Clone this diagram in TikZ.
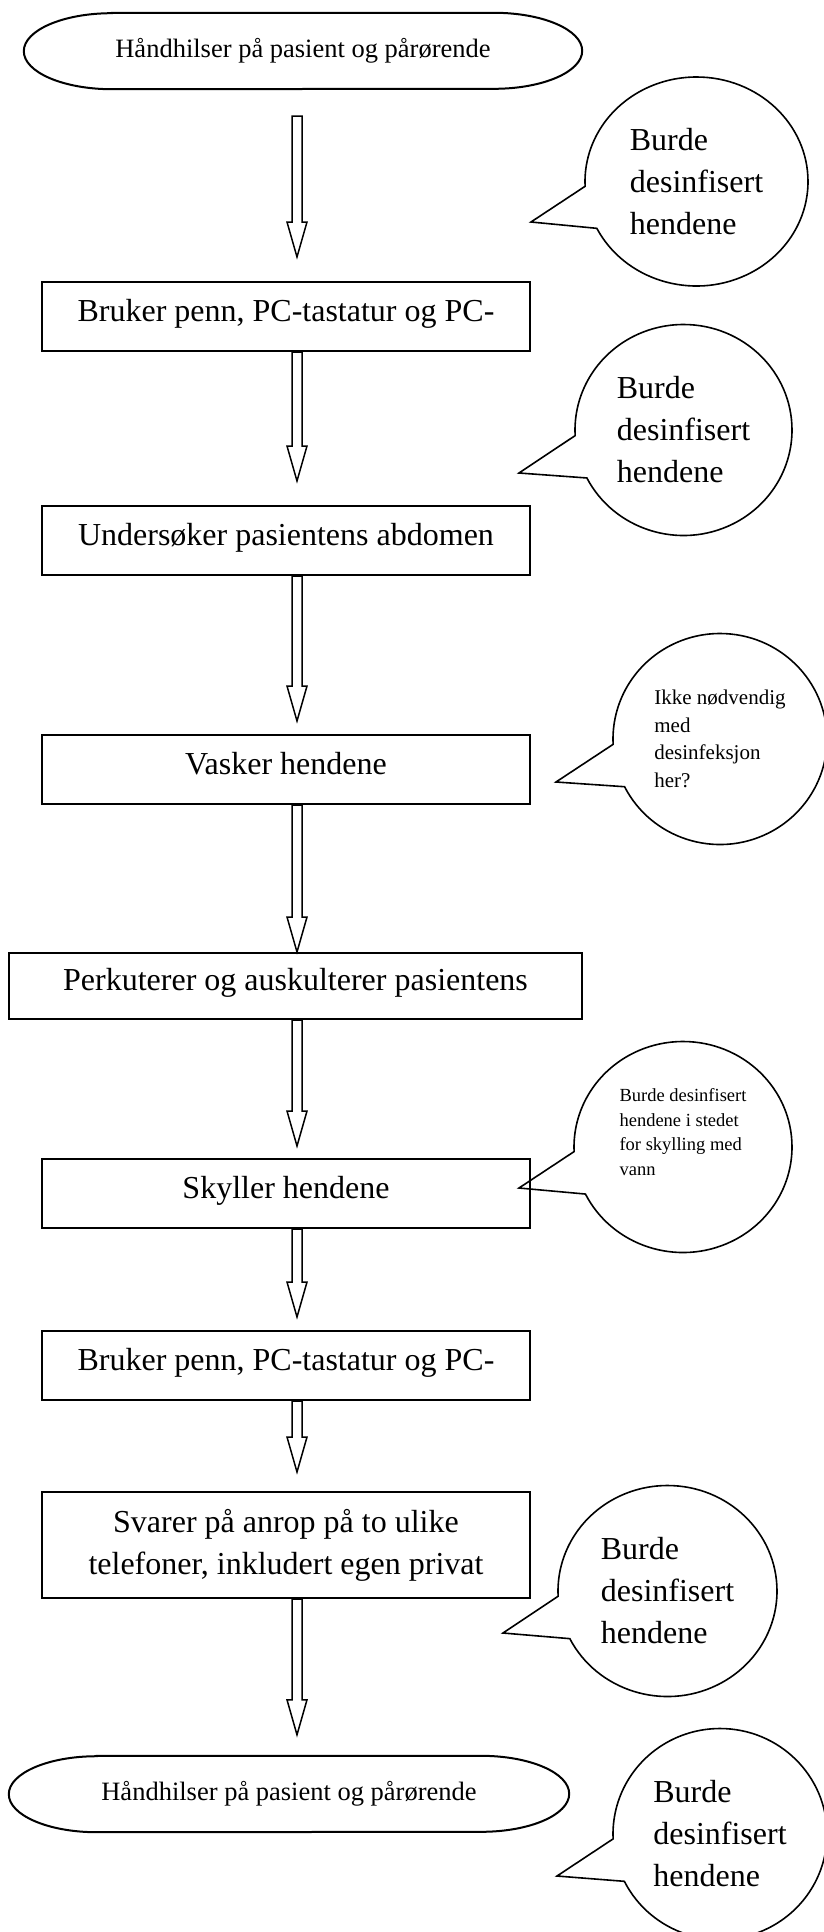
\documentclass[tikz,border=0pt]{standalone}
\usepackage{fontspec}
\setmainfont{Liberation Serif}
\usetikzlibrary{shapes.callouts,calc}

\tikzset{
	stepbox/.style={draw, line width=2pt, inner sep=0pt, minimum width=488pt, minimum height=69pt,
		text height=21pt, text depth=12pt, font=\fontsize{32}{42}\selectfont},
	terminal/.style={inner sep=0pt, minimum height=76pt, font=\fontsize{26.5}{32}\selectfont},
	note/.style={ellipse callout, draw, line width=1.6pt, inner sep=0pt, minimum width=218pt,
		minimum height=211pt, callout pointer arc=24, align=left, font=\fontsize{32}{42}\selectfont},
	hollow/.style 2 args={draw, line width=1.5pt, to path={
		($(\tikztostart)+(-5,#1)$) -- ($(\tikztotarget)+(-5,-#2-35)$) -- ($(\tikztotarget)+(-10,-#2-35)$)
		-- ($(\tikztotarget)+(0,-#2)$) -- ($(\tikztotarget)+(10,-#2-35)$) -- ($(\tikztotarget)+(5,-#2-35)$)
		-- ($(\tikztostart)+(5,#1)$) -- cycle}}
}

% outline of a start/stop node
\newcommand{\terminator}[1]{
	\draw[line width=2pt] ([xshift=88pt]#1.north west) -- ([xshift=-88pt]#1.north east)
		arc[start angle=90, end angle=-90, x radius=88pt, y radius=38pt]
		-- ([xshift=88pt]#1.south west)
		arc[start angle=270, end angle=90, x radius=88pt, y radius=38pt] -- cycle;
}

\begin{document}
\begin{tikzpicture}[x=1pt, y=-1pt]
	\clip (0,0) rectangle (824,1932);
	\coordinate (spine) at (297,0);

	\node[terminal, minimum width=558pt] (greet) at (303,51) {Håndhilser på pasient og pårørende};
	\terminator{greet}
	\node[stepbox] (pen) at (286,316.5) {Bruker penn, PC-tastatur og PC-};
	\node[stepbox] (abdomen) at (286,540.5) {Undersøker pasientens abdomen};
	\node[stepbox] (wash) at (286,769.5) {Vasker hendene};
	\node[stepbox, minimum width=573pt, minimum height=66pt] (percuss) at (295.5,986) {Perkuterer og auskulterer pasientens};
	\node[stepbox] (rinse) at (286,1193.5) {Skyller hendene};
	\node[stepbox] (pen2) at (286,1365.5) {Bruker penn, PC-tastatur og PC-};
	\node[stepbox, minimum height=106pt, text height={}, text depth={}, align=center] (phone) at (286,1545)
		{Svarer på anrop på to ulike\\telefoner, inkludert egen privat};
	\node[terminal, minimum width=560pt] (greet2) at (289,1794) {Håndhilser på pasient og pårørende};
	\terminator{greet2}

	\node[note, minimum width=223pt, minimum height=209pt, callout absolute pointer={(531,222)}] (c1) at (696.5,181.5)
		{Burde\\desinfisert\\hendene};
	\node[note, minimum width=217pt, callout absolute pointer={(519,473)}] (c2) at (683.5,430)
		{Burde\\desinfisert\\hendene};
	\node[note, minimum width=214pt, font=\fontsize{21}{27.5}\selectfont, callout absolute pointer={(556,782)}] (c3) at (720,739)
		{Ikke nødvendig\\med\\desinfeksjon\\her?};
	\node[note, font=\fontsize{18.5}{24.5}\selectfont, callout absolute pointer={(519,1188)}] (c4) at (683,1147)
		{Burde desinfisert\\hendene i stedet\\for skylling med\\vann\rule[-30pt]{0pt}{0pt}};
	\node[note, minimum width=219pt, callout absolute pointer={(503,1633)}] (c5) at (667.5,1591)
		{Burde\\desinfisert\\hendene};
	\node[note, minimum width=214pt, callout absolute pointer={(557,1876)}] (c6) at (720,1834)
		{Burde\\desinfisert\\hendene};

	\draw[hollow={27}{24}] (greet.south -| spine) to (pen.north -| spine);
	\draw[hollow={0}{24}] (pen.south -| spine) to (abdomen.north -| spine);
	\draw[hollow={0}{13}] (abdomen.south -| spine) to (wash.north -| spine);
	\draw[hollow={0}{0}] (wash.south -| spine) to (percuss.north -| spine);
	\draw[hollow={0}{12}] (percuss.south -| spine) to (rinse.north -| spine);
	\draw[hollow={0}{13}] (rinse.south -| spine) to (pen2.north -| spine);
	\draw[hollow={0}{19}] (pen2.south -| spine) to (phone.north -| spine);
	\draw[hollow={0}{21}] (phone.south -| spine) to (greet2.north -| spine);
\end{tikzpicture}
\end{document}
